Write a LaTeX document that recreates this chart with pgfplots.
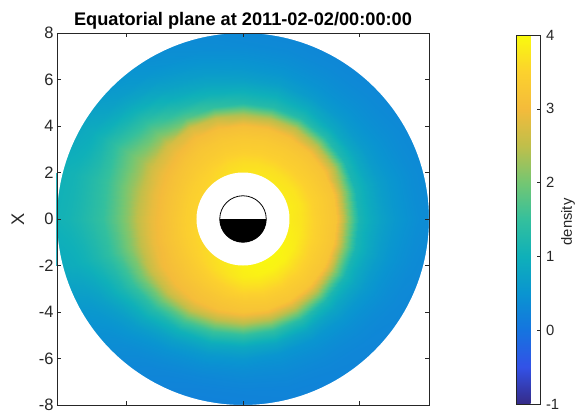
\documentclass[border=0pt]{standalone}
\usepackage{pgfplots}
\pgfplotsset{compat=1.18}
\usepackage{pgfplotstable}
\usepackage{fontspec}
\setmainfont{Liberation Sans}
\definecolor{axgray}{rgb}{0.15,0.15,0.15}

\pgfplotsset{
  colormap={parula}{
    rgb=(0.2081,0.1663,0.5292) rgb=(0.1986,0.3198,0.9048) rgb=(0.0836,0.4556,0.8756)
    rgb=(0.0380,0.5818,0.8177) rgb=(0.0580,0.6902,0.7258) rgb=(0.2033,0.7524,0.6150)
    rgb=(0.4540,0.7776,0.4487) rgb=(0.7509,0.7477,0.2908) rgb=(0.9555,0.7339,0.2307)
    rgb=(0.9880,0.8208,0.1787) rgb=(0.9763,0.9831,0.0538)}
}

% density on a polar grid: radius r (Earth radii), azimuth phi (deg), value c
\pgfplotstableread{
r phi c
1.95 0 3.82
2.5 0 3.72
3 0 3.52
3.5 0 3.36
4 0 3.20
4.5 0 2.10
5 0 1.15
5.5 0 0.90
6 0 0.72
6.5 0 0.58
7 0 0.48
7.5 0 0.40
8.3 0 0.33
1.95 15 3.84
2.5 15 3.74
3 15 3.52
3.5 15 3.36
4 15 3.20
4.5 15 2.20
5 15 1.15
5.5 15 0.88
6 15 0.68
6.5 15 0.55
7 15 0.46
7.5 15 0.38
8.3 15 0.32
1.95 30 3.82
2.5 30 3.72
3 30 3.50
3.5 30 3.34
4 30 3.18
4.5 30 2.40
5 30 1.20
5.5 30 0.85
6 30 0.62
6.5 30 0.50
7 30 0.42
7.5 30 0.36
8.3 30 0.30
1.95 45 3.80
2.5 45 3.68
3 45 3.47
3.5 45 3.32
4 45 3.15
4.5 45 2.40
5 45 1.30
5.5 45 0.85
6 45 0.60
6.5 45 0.48
7 45 0.40
7.5 45 0.34
8.3 45 0.28
1.95 60 3.78
2.5 60 3.66
3 60 3.45
3.5 60 3.32
4 60 3.12
4.5 60 2.45
5 60 1.30
5.5 60 0.90
6 60 0.62
6.5 60 0.48
7 60 0.40
7.5 60 0.33
8.3 60 0.27
1.95 75 3.77
2.5 75 3.64
3 75 3.44
3.5 75 3.30
4 75 3.10
4.5 75 2.40
5 75 1.30
5.5 75 0.95
6 75 0.68
6.5 75 0.52
7 75 0.42
7.5 75 0.34
8.3 75 0.28
1.95 90 3.75
2.5 90 3.62
3 90 3.42
3.5 90 3.30
4 90 3.10
4.5 90 2.35
5 90 1.30
5.5 90 0.98
6 90 0.72
6.5 90 0.55
7 90 0.44
7.5 90 0.35
8.3 90 0.28
1.95 105 3.70
2.5 105 3.58
3 105 3.40
3.5 105 3.27
4 105 3.08
4.5 105 2.55
5 105 1.45
5.5 105 1.05
6 105 0.80
6.5 105 0.62
7 105 0.50
7.5 105 0.40
8.3 105 0.32
1.95 120 3.64
2.5 120 3.52
3 120 3.35
3.5 120 3.24
4 120 3.05
4.5 120 2.70
5 120 1.75
5.5 120 1.25
6 120 0.95
6.5 120 0.75
7 120 0.60
7.5 120 0.48
8.3 120 0.38
1.95 135 3.58
2.5 135 3.47
3 135 3.32
3.5 135 3.17
4 135 2.97
4.5 135 2.70
5 135 2.15
5.5 135 1.75
6 135 1.35
6.5 135 1.05
7 135 0.82
7.5 135 0.65
8.3 135 0.52
1.95 150 3.54
2.5 150 3.44
3 150 3.27
3.5 150 3.12
4 150 2.92
4.5 150 2.65
5 150 2.25
5.5 150 1.95
6 150 1.65
6.5 150 1.35
7 150 1.10
7.5 150 0.92
8.3 150 0.80
1.95 165 3.54
2.5 165 3.42
3 165 3.24
3.5 165 3.07
4 165 2.87
4.5 165 2.55
5 165 2.20
5.5 165 1.85
6 165 1.55
6.5 165 1.35
7 165 1.20
7.5 165 1.08
8.3 165 1.00
1.95 180 3.54
2.5 180 3.42
3 180 3.24
3.5 180 3.07
4 180 2.87
4.5 180 2.55
5 180 2.15
5.5 180 1.80
6 180 1.50
6.5 180 1.35
7 180 1.20
7.5 180 1.10
8.3 180 1.02
1.95 195 3.57
2.5 195 3.44
3 195 3.27
3.5 195 3.10
4 195 2.90
4.5 195 2.55
5 195 2.10
5.5 195 1.70
6 195 1.40
6.5 195 1.20
7 195 1.05
7.5 195 0.95
8.3 195 0.88
1.95 210 3.60
2.5 210 3.47
3 210 3.30
3.5 210 3.14
4 210 2.97
4.5 210 2.60
5 210 2.00
5.5 210 1.50
6 210 1.15
6.5 210 0.90
7 210 0.72
7.5 210 0.60
8.3 210 0.52
1.95 225 3.65
2.5 225 3.53
3 225 3.35
3.5 225 3.18
4 225 3.02
4.5 225 2.60
5 225 1.90
5.5 225 1.30
6 225 0.90
6.5 225 0.65
7 225 0.50
7.5 225 0.40
8.3 225 0.34
1.95 240 3.73
2.5 240 3.62
3 240 3.42
3.5 240 3.23
4 240 3.07
4.5 240 2.55
5 240 1.70
5.5 240 1.05
6 240 0.70
6.5 240 0.48
7 240 0.36
7.5 240 0.28
8.3 240 0.24
1.95 255 3.83
2.5 255 3.72
3 255 3.50
3.5 255 3.28
4 255 3.12
4.5 255 2.45
5 255 1.55
5.5 255 0.92
6 255 0.60
6.5 255 0.42
7 255 0.30
7.5 255 0.24
8.3 255 0.20
1.95 270 3.90
2.5 270 3.83
3 270 3.60
3.5 270 3.35
4 270 3.17
4.5 270 2.40
5 270 1.45
5.5 270 0.85
6 270 0.55
6.5 270 0.40
7 270 0.30
7.5 270 0.24
8.3 270 0.20
1.95 285 3.94
2.5 285 3.88
3 285 3.65
3.5 285 3.38
4 285 3.20
4.5 285 2.40
5 285 1.40
5.5 285 0.82
6 285 0.52
6.5 285 0.40
7 285 0.32
7.5 285 0.26
8.3 285 0.22
1.95 300 3.96
2.5 300 3.90
3 300 3.66
3.5 300 3.40
4 300 3.22
4.5 300 2.35
5 300 1.30
5.5 300 0.80
6 300 0.52
6.5 300 0.40
7 300 0.32
7.5 300 0.27
8.3 300 0.24
1.95 315 3.96
2.5 315 3.88
3 315 3.63
3.5 315 3.40
4 315 3.22
4.5 315 2.30
5 315 1.20
5.5 315 0.80
6 315 0.55
6.5 315 0.42
7 315 0.34
7.5 315 0.29
8.3 315 0.26
1.95 330 3.92
2.5 330 3.83
3 330 3.59
3.5 330 3.38
4 330 3.21
4.5 330 2.20
5 330 1.15
5.5 330 0.82
6 330 0.60
6.5 330 0.47
7 330 0.38
7.5 330 0.32
8.3 330 0.28
1.95 345 3.87
2.5 345 3.77
3 345 3.55
3.5 345 3.37
4 345 3.20
4.5 345 2.15
5 345 1.15
5.5 345 0.86
6 345 0.66
6.5 345 0.52
7 345 0.43
7.5 345 0.36
8.3 345 0.30
1.95 360 3.82
2.5 360 3.72
3 360 3.52
3.5 360 3.36
4 360 3.20
4.5 360 2.10
5 360 1.15
5.5 360 0.90
6 360 0.72
6.5 360 0.58
7 360 0.48
7.5 360 0.40
8.3 360 0.33
}\densitytable

\begin{document}
\begin{tikzpicture}
\useasboundingbox (0bp,0bp) rectangle (588bp,413bp);
\begin{axis}[
  at={(57bp,8bp)}, anchor=south west,
  scale only axis, width=372bp, height=372bp,
  xmin=-8, xmax=8, ymin=-8, ymax=8,
  xtick={-5,0,5}, xticklabels={},
  ytick={-8,-6,...,8},
  tick align=inside, major tick length=4bp,
  axis line style={axgray, line width=0.6bp},
  every tick/.style={axgray, line width=0.6bp},
  /pgf/number format/assume math mode=true,
  tick label style={font=\fontsize{16.5bp}{18bp}\selectfont, text=axgray},
  ylabel={X},
  ylabel style={at={(axis description cs:-0.105,0.5)}, anchor=center,
    font=\fontsize{18.2bp}{20bp}\selectfont, text=axgray},
  colormap name=parula, point meta min=-1, point meta max=4,
  colorbar,
  colorbar style={
    at={(parent axis.south east)}, anchor=south west, xshift=79bp, yshift=1bp,
    scale only axis, width=24bp, height=369bp,
    ytick={-1,0,...,4}, ytick pos=right, yticklabel pos=right,
    tick align=inside, major tick length=4bp,
    axis line style={axgray, line width=0.6bp},
    every tick/.style={axgray, line width=0.6bp},
    /pgf/number format/assume math mode=true,
    yticklabel style={font=\fontsize{14.8bp}{16bp}\selectfont, text=axgray, xshift=2bp},
  },
  axis on top,
]
\addplot[surf, shader=interp, mesh/rows=25, mesh/cols=13, point meta=explicit]
  table[x expr={\thisrow{r}*cos(\thisrow{phi})},
        y expr={\thisrow{r}*sin(\thisrow{phi})}, meta=c] {\densitytable};
% keep the field inside r = 8
\fill[white, even odd rule] (rel axis cs:0,0) rectangle (rel axis cs:1,1)
  (axis cs:0,0) circle[radius=8];
% inner boundary and Earth (night side dark)
\fill[white] (axis cs:0,0) circle[radius=2];
\fill[black] (axis cs:-1,0) arc[start angle=180, end angle=360, radius=23.25bp] -- cycle;
\draw[black, line width=0.8bp] (axis cs:0,0) circle[radius=1];
\end{axis}
\node[anchor=base, font=\fontsize{18.2bp}{20bp}\selectfont\bfseries]
  at (243bp,387.5bp) {Equatorial plane at 2011-02-02/00:00:00};
\node[rotate=90, font=\fontsize{14.8bp}{16bp}\selectfont, text=axgray]
  at (568bp,191bp) {density};
\end{tikzpicture}
\end{document}
